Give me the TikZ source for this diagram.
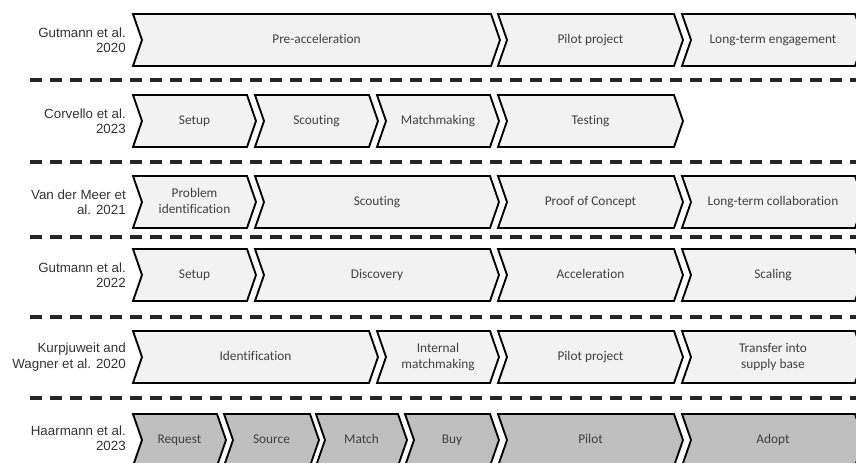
\documentclass[tikz,border=0pt]{standalone}
\usepackage{fontspec}
\newfontfamily\labelfont{Liberation Sans}
\newfontfamily\stagefont[Ligatures=NoCommon]{Carlito}

% One chevron-shaped stage: #1 name, #2 left x, #3 right x (top corner),
% #4 centre y, #5 fill style, #6 text
\newcommand\drawstage[6]{%
  \draw[stageline,#5] (#2,#4-26) -- (#3,#4-26) -- (#3+9,#4) -- (#3,#4+26)
    -- (#2,#4+26) -- (#2+9,#4) -- cycle;
  \node[stagetext] (#1) at ({(#2+#3+9)/2},#4) {\strut #6};}

\begin{document}
\begin{tikzpicture}[x=0.75pt,y=-0.75pt,
  stageline/.style={draw=black,line width=1.4pt,line join=miter},
  light/.style={fill=black!5},
  dark/.style={fill=black!25},
  stagetext/.style={font=\stagefont\fontsize{10}{12}\selectfont,text=black!75,
    align=center,inner sep=0pt},
  authortext/.style={font=\labelfont\fontsize{10}{11.5}\selectfont,text=black!80,
    align=right,anchor=east,inner sep=0pt},
  divider/.style={line width=2.4pt,draw=black!85,dash pattern=on 9pt off 6pt}]

\useasboundingbox (0,0) rectangle (856,462);
\begin{scope}
\clip (0,0) rectangle (856,462);

% separators between the studies
\foreach \y in {80,162,237,317,398}
  \draw[divider] (30,\y) -- (860,\y);

% Gutmann et al. 2020
\node[authortext] (lab1) at (126,40) {Gutmann et al.\\2020};
\drawstage{g20a}{133}{491}{40}{light}{Pre-acceleration}
\drawstage{g20b}{498}{674}{40}{light}{Pilot project}
\drawstage{g20c}{682}{855}{40}{light}{Long-term engagement}

% Corvello et al. 2023
\node[authortext] (lab2) at (126,121) {Corvello et al.\\2023};
\drawstage{c23a}{133}{247}{121}{light}{Setup}
\drawstage{c23b}{255}{369}{121}{light}{Scouting}
\drawstage{c23c}{377}{490}{121}{light}{Matchmaking}
\drawstage{c23d}{498}{674}{121}{light}{Testing}

% Van der Meer et al. 2021
\node[authortext] (lab3) at (126,202) {Van der Meer et\\al. 2021};
\drawstage{v21a}{133}{247}{202}{light}{Problem\\\strut identification}
\drawstage{v21b}{255}{490}{202}{light}{Scouting}
\drawstage{v21c}{498}{674}{202}{light}{Proof of Concept}
\drawstage{v21d}{682}{855}{202}{light}{Long-term collaboration}

% Gutmann et al. 2022
\node[authortext] (lab4) at (126,275) {Gutmann et al.\\2022};
\drawstage{g22a}{133}{247}{275}{light}{Setup}
\drawstage{g22b}{255}{490}{275}{light}{Discovery}
\drawstage{g22c}{498}{674}{275}{light}{Acceleration}
\drawstage{g22d}{682}{855}{275}{light}{Scaling}

% Kurpjuweit and Wagner et al. 2020
\node[authortext] (lab5) at (126,357) {Kurpjuweit and\\Wagner et al. 2020};
\drawstage{k20a}{133}{369}{357}{light}{Identification}
\drawstage{k20b}{377}{490}{357}{light}{Internal\\\strut matchmaking}
\drawstage{k20c}{498}{674}{357}{light}{Pilot project}
\drawstage{k20d}{682}{855}{357}{light}{Transfer into\\\strut supply base}

% Haarmann et al. 2023
\node[authortext] (lab6) at (126,438) {Haarmann et al.\\2023};
\drawstage{h23a}{133}{217}{440}{dark}{Request}
\drawstage{h23b}{224}{310}{440}{dark}{Source}
\drawstage{h23c}{316}{398}{440}{dark}{Match}
\drawstage{h23d}{405}{490}{440}{dark}{Buy}
\drawstage{h23e}{498}{674}{440}{dark}{Pilot}
\drawstage{h23f}{682}{855}{440}{dark}{Adopt}
\end{scope}
\end{tikzpicture}
\end{document}
